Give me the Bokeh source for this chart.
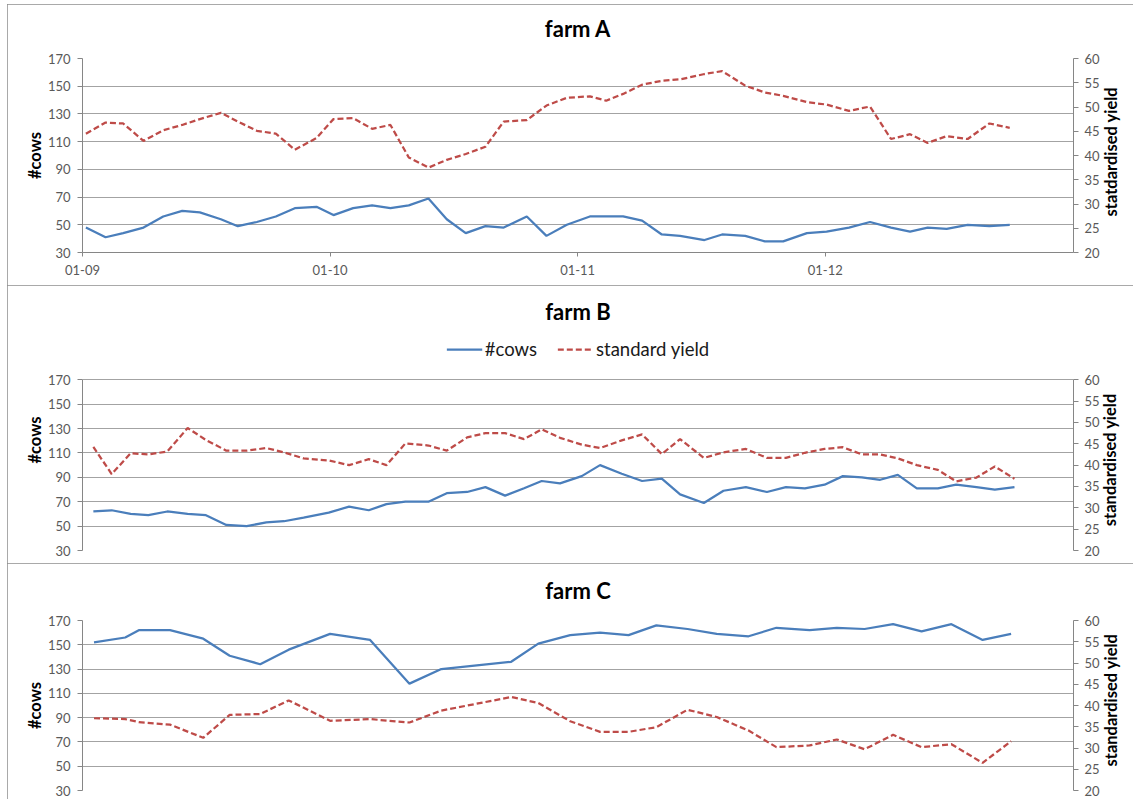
import math
import pandas as pd
from bokeh.plotting import figure
from bokeh.models import Range1d, LinearAxis, FixedTicker, Legend, LegendItem, Title
from bokeh.layouts import column
from bokeh.embed import file_html
from bokeh.resources import INLINE

FONT = "Lato"
BLUE = "#4a7ebb"
RED = "#be4b48"
GRID = "#a3a3a3"
AXIS = "#868686"
TICKTXT = "#595959"

START = "2009-01-01"
END = "2013-01-01"
tick_dates = ["2009-01-01", "2010-01-01", "2011-01-01", "2012-01-01"]
tick_labels = ["01-09", "01-10", "01-11", "01-12"]
cow_ticks = [30, 50, 70, 90, 110, 130, 150, 170]
yield_ticks = [20, 25, 30, 35, 40, 45, 50, 55, 60]

# ---- farm A (days since 1 Jan 2009) ----
a_day = [5, 34, 60, 90, 119, 147, 173, 204, 229, 257, 285, 313, 345, 370, 399, 427, 454, 481,
         510, 537, 565, 594, 621, 655, 684, 714, 748, 772, 797, 825, 854, 881, 917, 943, 977,
         1006, 1033, 1068, 1097, 1130, 1161, 1192, 1220, 1246, 1274, 1305, 1337, 1367]
a_cows = [48, 41, 44, 48, 56, 60, 59, 54, 49, 52, 56, 62, 63, 57, 62, 64, 62, 64, 69, 54,
          44, 49, 48, 56, 42, 50, 56, 56, 56, 53, 43, 42, 39, 43, 42, 38, 38, 44, 45, 48,
          52, 48, 45, 48, 47, 50, 49, 50]
a_yield = [44.5, 46.8, 46.6, 43.0, 45.2, 46.3, 47.5, 48.8, 47.0, 45.1, 44.5, 41.2, 43.6, 47.5,
           47.7, 45.5, 46.3, 39.6, 37.5, 39.1, 40.3, 41.8, 47.0, 47.3, 50.3, 51.9, 52.2, 51.3,
           52.7, 54.6, 55.4, 55.7, 56.8, 57.4, 54.4, 53.0, 52.3, 51.0, 50.5, 49.2, 50.1, 43.4,
           44.4, 42.6, 44.0, 43.4, 46.6, 45.7]

# ---- farm B ----
b_day = [16, 43, 71, 97, 125, 155, 182, 212, 242, 271, 297, 326, 363, 393, 422, 448, 476, 510,
         537, 567, 594, 623, 651, 677, 704, 736, 763, 795, 825, 854, 881, 916, 945, 978, 1009,
         1037, 1065, 1094, 1121, 1149, 1176, 1202, 1230, 1261, 1288, 1318, 1345, 1374]
b_cows = [62, 63, 60, 59, 62, 60, 59, 51, 50, 53, 54, 57, 61, 66, 63, 68, 70, 70, 77, 78,
          82, 75, 81, 87, 85, 91, 100, 93, 87, 89, 76, 69, 79, 82, 78, 82, 81, 84, 91, 90,
          88, 92, 81, 81, 84, 82, 80, 82]
b_yield = [44.3, 37.9, 42.8, 42.5, 43.2, 48.7, 45.9, 43.4, 43.4, 44.0, 43.0, 41.6, 41.1, 40.0,
           41.4, 40.0, 45.1, 44.6, 43.4, 46.5, 47.5, 47.5, 46.1, 48.4, 46.4, 44.8, 44.0, 45.8,
           47.2, 42.6, 46.1, 41.7, 43.0, 43.8, 41.7, 41.7, 42.9, 43.8, 44.2, 42.5, 42.5, 41.6,
           40.0, 38.9, 36.2, 37.1, 39.7, 36.8]

# ---- farm C ----
c_day = [17, 63, 83, 129, 178, 217, 262, 304, 365, 424, 482, 529, 632, 672, 719, 763, 805, 846,
         892, 935, 982, 1023, 1072, 1112, 1153, 1195, 1237, 1281, 1327, 1369]
c_cows = [152, 156, 162, 162, 155, 141, 134, 146, 159, 154, 118, 130, 136, 151, 158, 160, 158,
          166, 163, 159, 157, 164, 162, 164, 163, 167, 161, 167, 154, 159]
c_yield = [37.0, 36.8, 36.1, 35.5, 32.4, 37.8, 38.0, 41.2, 36.4, 36.8, 36.0, 38.8, 42.0, 40.6,
           36.3, 33.8, 33.8, 34.9, 39.0, 37.3, 34.1, 30.2, 30.6, 32.0, 29.7, 33.1, 30.2, 30.9,
           26.5, 31.6]

COW_LO, COW_HI = 30, 170
YLD_LO, YLD_HI = 20, 60
WIDTH = 1126
BORDER_L, BORDER_R = 75, 58
RIGHT_TITLE_HALF_PX = 61   # half length of the rotated right-hand axis title


def to_dates(days):
    return pd.Timestamp(START) + pd.to_timedelta(days, unit="D")


def ms(d):
    return int(pd.Timestamp(d).value // 10**6)


def style_axis(ax):
    ax.axis_line_color = AXIS
    ax.major_tick_line_color = AXIS
    ax.minor_tick_line_color = None
    ax.major_tick_in = 0
    ax.major_tick_out = 5
    ax.major_label_text_font = FONT
    ax.major_label_text_font_size = "13px"
    ax.major_label_text_color = TICKTXT
    ax.axis_label_text_font = FONT
    ax.axis_label_text_font_size = "16.5px"
    ax.axis_label_text_font_style = "bold"
    ax.axis_label_text_color = "black"


def panel(name, days, cows, yld, right_label, height, top, bottom, show_x,
          title_align, title_standoff, spacer=None, px170=None, with_legend=False):
    frame_h = height - top - bottom
    cow_hi, yld_hi = COW_HI, YLD_HI
    px170_ = top if px170 is None else px170
    span_px = height - bottom - px170_          # pixels between the 30 and 170 lines
    if px170 is not None:
        # frame extends above the 170 line to make room for the legend
        k = span_px / (COW_HI - COW_LO)
        cow_hi = COW_LO + frame_h / k
        yld_hi = YLD_LO + (cow_hi - COW_LO) * (YLD_HI - YLD_LO) / (COW_HI - COW_LO)

    p = figure(width=WIDTH, height=height, x_axis_type="datetime",
               x_range=Range1d(pd.Timestamp(START), pd.Timestamp(END)),
               y_range=Range1d(COW_LO, cow_hi), output_backend="svg", toolbar_location=None,
               min_border_left=BORDER_L, min_border_right=BORDER_R, min_border_top=top,
               min_border_bottom=bottom, background_fill_color="white",
               border_fill_color="white", outline_line_color=None,
               styles={"outline": "1px solid #8c8c8c", "outline-offset": "-1px"})
    p.extra_y_ranges = {"yield": Range1d(YLD_LO, yld_hi)}

    dates = to_dates(days)
    r1 = p.line(dates, cows, line_color=BLUE, line_width=2.25)
    r2 = p.line(dates, yld, line_color=RED, line_width=2.25, line_dash="6 3",
                y_range_name="yield")

    ly = p.yaxis[0]
    ly.ticker = FixedTicker(ticks=cow_ticks)
    ly.bounds = (COW_LO, COW_HI)
    style_axis(ly)
    ly.major_label_standoff = 7
    ly.axis_label = "#cows"
    ly.axis_label_standoff = 0

    ry = LinearAxis(y_range_name="yield", ticker=FixedTicker(ticks=yield_ticks),
                    bounds=(YLD_LO, YLD_HI))
    style_axis(ry)
    ry.major_label_standoff = 6
    p.add_layout(ry, "right")

    # right-hand title, written upwards like the left one
    ppu = span_px / (YLD_HI - YLD_LO)
    start_val = (YLD_LO + YLD_HI) / 2 - RIGHT_TITLE_HALF_PX / ppu
    rt = LinearAxis(y_range_name="yield", ticker=FixedTicker(ticks=[start_val]),
                    major_label_overrides={start_val: right_label},
                    major_label_orientation=math.pi / 2,
                    axis_line_color=None, major_tick_line_color=None,
                    minor_tick_line_color=None, major_tick_out=0, major_tick_in=0,
                    major_label_standoff=8, major_label_text_font=FONT,
                    major_label_text_font_size="16.5px", major_label_text_font_style="bold",
                    major_label_text_color="black")
    p.add_layout(rt, "right")

    p.ygrid.ticker = FixedTicker(ticks=cow_ticks)
    p.ygrid.grid_line_color = GRID
    p.ygrid.grid_line_width = 1
    p.xgrid.visible = False

    xa = p.xaxis[0]
    if show_x:
        tv = [ms(d) for d in tick_dates]
        xa.ticker = FixedTicker(ticks=tv)
        xa.major_label_overrides = {t: lab for t, lab in zip(tv, tick_labels)}
        style_axis(xa)
        xa.major_tick_out = 4
        xa.major_label_standoff = 8
    else:
        xa.visible = False

    if with_legend:
        leg = Legend(items=[LegendItem(label="#cows", renderers=[r1]),
                            LegendItem(label="standard yield", renderers=[r2])],
                     orientation="horizontal", location="top_center",
                     border_line_color=None, background_fill_alpha=0,
                     label_text_font=FONT, label_text_font_size="18.5px",
                     label_text_color="#1a1a1a",
                     glyph_width=36, glyph_height=18, label_standoff=3, spacing=20,
                     padding=2, margin=9)
        p.add_layout(leg, "center")

    if spacer is not None:
        # thin empty band between the frame and the title
        p.add_layout(Title(text=" ", text_font_size="1px", standoff=spacer), "above")
    t = Title(text=name, align="center", vertical_align=title_align, text_font=FONT,
              text_font_size="22px", text_font_style="bold", text_color="black",
              standoff=title_standoff)
    p.add_layout(t, "above")
    return p


pA = panel("farm A", a_day, a_cows, a_yield, "statdardised yield", 281, 54, 33, True,
           "top", 17, spacer=3)
pB = panel("farm B", b_day, b_cows, b_yield, "standardised yield", 278, 44, 13, False,
           "bottom", 10, px170=94.3, with_legend=True)
pC = panel("farm C", c_day, c_cows, c_yield, "standardised yield", 236, 57, 9, False,
           "top", 23, spacer=0)

layout = column(pA, pB, pC, spacing=0, margin=(4, 0, 0, 7))
open("out.html", "w").write(file_html(layout, INLINE))
